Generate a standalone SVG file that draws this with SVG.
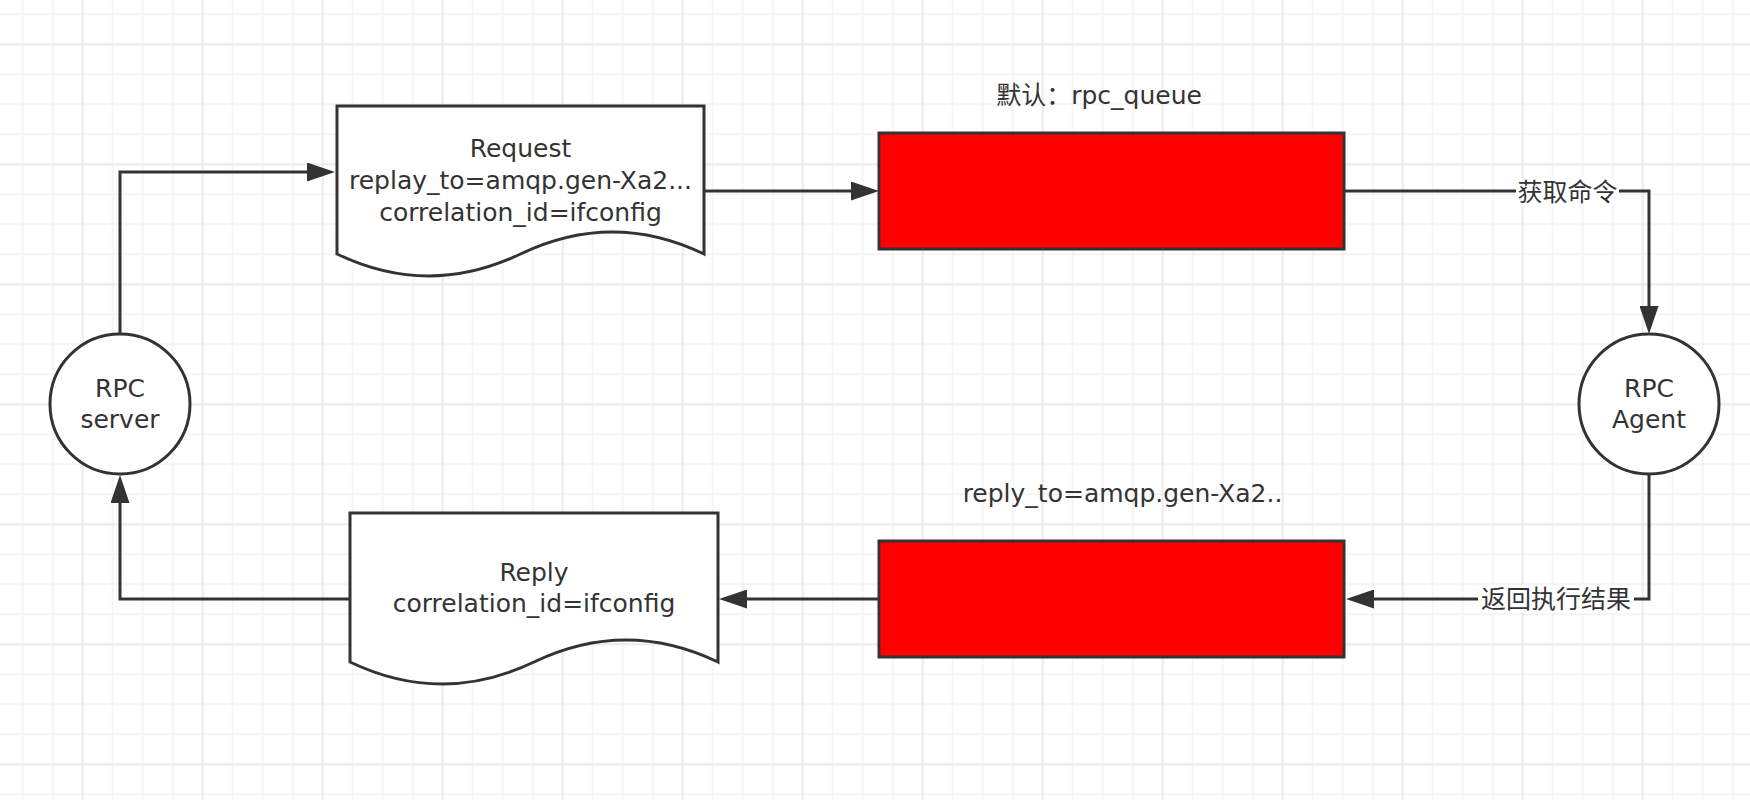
<svg xmlns="http://www.w3.org/2000/svg" width="1750" height="800" viewBox="0 0 1750 800">
  <style>
    .t { font-family: "DejaVu Sans", "Noto Sans CJK SC", sans-serif; font-size: 25px; fill: #333; text-anchor: middle; }
    .cjk { font-family: "Noto Sans CJK SC", "DejaVu Sans", sans-serif; font-size: 25px; fill: #333; text-anchor: middle; }
    .shape { stroke: #333; stroke-width: 3; fill: #fff; }
    .queue { stroke: #333; stroke-width: 3; fill: #ff0000; }
    .edge { stroke: #333; stroke-width: 3; fill: none; marker-end: url(#arrow); }
    .lblbg { fill: #fff; }
  </style>
  <defs>
    <pattern id="grid" x="7.7" y="-0.7" width="120" height="120" patternUnits="userSpaceOnUse">
      <path d="M15,0V120M45,0V120M75,0V120M105,0V120M0,15H120M0,45H120M0,75H120M0,105H120" stroke="#f2f2f2" stroke-width="1.5" fill="none"/>
      <path d="M75,0V120M0,45H120" stroke="#e7e7e7" stroke-width="1.5" fill="none"/>
    </pattern>
    <marker id="arrow" viewBox="0 0 28 19" refX="1" refY="9.5" markerWidth="28" markerHeight="19" markerUnits="userSpaceOnUse" orient="auto">
      <path d="M0,0 L28,9.5 L0,19 Z" fill="#333"/>
    </marker>
  </defs>

  <rect x="0" y="0" width="1750" height="800" fill="#fff"/>
  <rect x="0" y="0" width="1750" height="800" fill="url(#grid)"/>

  <g id="connectors">
    <path class="edge" d="M120,334 V172 H308"/>
    <path class="edge" d="M704,191 H852"/>
    <path class="edge" d="M1344,191 H1649 V307"/>
    <path class="edge" d="M1649,474 V599 H1373"/>
    <path class="edge" d="M879,599 H746"/>
    <path class="edge" d="M350,599 H120 V502"/>
    <rect class="lblbg" x="1516" y="178" width="103" height="28"/>
    <text class="cjk" x="1567.5" y="200.5">获取命令</text>
    <rect class="lblbg" x="1478" y="585" width="156" height="28"/>
    <text class="cjk" x="1556" y="607.5">返回执行结果</text>
  </g>

  <g id="rpc-server">
    <circle class="shape" cx="120" cy="404" r="70"/>
    <text class="t" x="120" y="397">RPC</text>
    <text class="t" x="120" y="428">server</text>
  </g>

  <g id="rpc-agent">
    <circle class="shape" cx="1649" cy="404" r="70"/>
    <text class="t" x="1649" y="397">RPC</text>
    <text class="t" x="1649" y="428">Agent</text>
  </g>

  <g id="request">
    <path class="shape" d="M337,106 H704 V254 Q612.5,210 520.5,254 Q428.5,298 337,254 Z"/>
    <text class="t" x="520.5" y="157">Request</text>
    <text class="t" x="520.5" y="189">replay_to=amqp.gen-Xa2...</text>
    <text class="t" x="520.5" y="221">correlation_id=ifconfig</text>
  </g>

  <g id="reply">
    <path class="shape" d="M350,513 H718 V662 Q626,618 534,662 Q442,706 350,662 Z"/>
    <text class="t" x="534" y="581">Reply</text>
    <text class="t" x="534" y="612">correlation_id=ifconfig</text>
  </g>

  <g id="rpc-queue">
    <text class="t" x="1099" y="104">默认：rpc_queue</text>
    <rect class="queue" x="879" y="133" width="465" height="116"/>
  </g>

  <g id="reply-queue">
    <text class="t" x="1122.5" y="502">reply_to=amqp.gen-Xa2..</text>
    <rect class="queue" x="879" y="541" width="465" height="116"/>
  </g>
</svg>
